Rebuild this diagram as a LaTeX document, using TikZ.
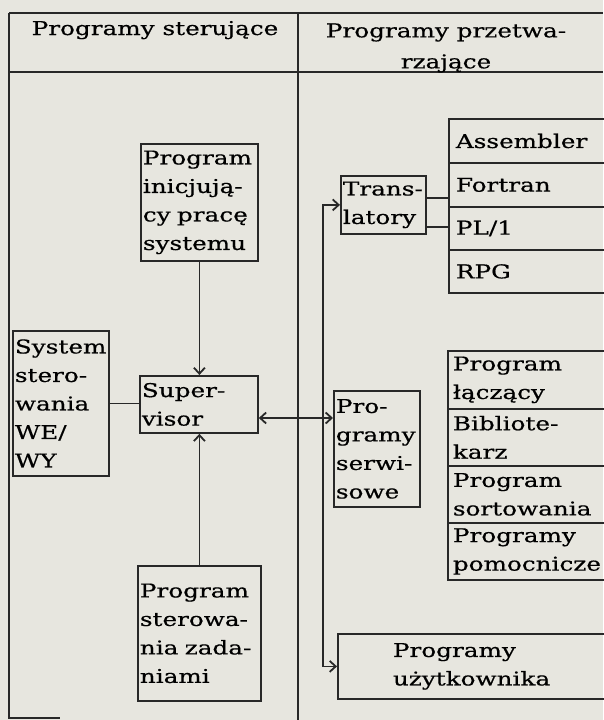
\documentclass[tikz,border=0pt]{standalone}
\usepackage{fontspec}
\setmainfont{DejaVu Serif}[FakeStretch=1.3,FakeBold=0.5]
\usetikzlibrary{arrows.meta,calc,positioning}

\definecolor{paper}{RGB}{231,230,223}
\definecolor{ink}{RGB}{40,40,40}

\tikzset{
	frame/.style={draw=ink, line width=1.8pt},
	prog/.style={draw=ink, line width=1.8pt, anchor=north west, align=left,
		inner xsep=2pt, inner ysep=0pt, font=\fontsize{19}{28.5}\selectfont},
	item/.style={prog, inner xsep=7pt},
	link/.style={ink, line width=1.8pt},
	arr/.style={link, -{Straight Barb[length=6pt,width=11pt]}},
	head/.style={inner sep=0pt, align=center, font=\fontsize{19}{31}\selectfont}
}

\begin{document}
\begin{tikzpicture}[x=1pt, y=-1pt]
		\useasboundingbox (0,0) rectangle (603,720);
		\fill[paper] (0,0) rectangle (603,720);
		% frame of the table
		\draw[frame] (9,13) -- (603,13);
		\draw[frame] (9,72) -- (603,72);
		\draw[frame] (9,13) -- (9,718) -- (60,718);
		\draw[frame] (298,13) -- (298,720);
		\node[head, anchor=base] (hleft) at (155,35) {Programy sterujące};
		\node[head] (hright) at (446,48) {Programy przetwa-\\rzające};
		% control programs
		\node[prog, minimum width=117pt, minimum height=117pt, text width=113pt] (init) at (140,143) {Program\\inicjują-\\cy pracę\\systemu};
		\node[prog, minimum width=118pt, minimum height=57pt, text width=114pt] (sup) at (139,375) {Super-\\visor};
		\node[prog, minimum width=96pt, minimum height=145pt, text width=92pt] (we) at (12,330) {System\\stero-\\wania\\WE/\\WY};
		\node[prog, minimum width=123pt, minimum height=135pt, text width=119pt] (task) at (137,565) {Program\\sterowa-\\nia zada-\\niami};
		% processing programs
		\node[prog, minimum width=85pt, minimum height=58pt, text width=81pt] (trans) at (340,175) {Trans-\\latory};
		\node[prog, minimum width=86pt, minimum height=116pt, text width=82pt] (serw) at (333,390) {Pro-\\gramy\\serwi-\\sowe};
		\node[prog, minimum width=280pt, minimum height=65pt, text width=276pt] (user) at (337,633) {\hspace*{53pt}Programy\\\hspace*{53pt}użytkownika};
		\node[item, minimum width=170pt, minimum height=44pt, text width=156pt] (asm) at (448,118) {Assembler};
		\node[item, minimum width=170pt, minimum height=44pt, text width=156pt] (fort) at (448,162) {Fortran};
		\node[item, minimum width=170pt, minimum height=43pt, text width=156pt] (pl) at (448,206) {PL/1};
		\node[item, minimum width=170pt, minimum height=43pt, text width=156pt] (rpg) at (448,249) {RPG};
		\node[prog, inner xsep=5pt, minimum width=170pt, minimum height=58pt, text width=160pt] (lacz) at (447,350) {Program\\łączący};
		\node[prog, inner xsep=5pt, minimum width=170pt, minimum height=57pt, text width=160pt] (bibl) at (447,408) {Bibliote-\\karz};
		\node[prog, inner xsep=5pt, minimum width=170pt, minimum height=57pt, text width=160pt] (sort) at (447,465) {Program\\sortowania};
		\node[prog, inner xsep=5pt, minimum width=170pt, minimum height=57pt, text width=160pt] (pom) at (447,522) {Programy\\pomocnicze};
		% connections
		\coordinate (hub) at (323,418);
		\draw[arr] (init.south) -- (init.south |- sup.north);
		\draw[arr] (task.north) -- (task.north |- sup.south);
		\draw[link] (we.east) -- (we.east -| sup.west);
		\draw[arr] (hub) -- (hub -| sup.east);
		\draw[arr] (hub) -- (hub -| serw.west);
		\draw[arr] (hub) |- (trans.west);
		\draw[arr] (hub) |- (user.west);
		\draw[link] ([yshift=7pt]trans.east) -- ([yshift=7pt]trans.east -| fort.west);
		\draw[link] ([yshift=-22pt]trans.east) -- ([yshift=-22pt]trans.east -| pl.west);
	\end{tikzpicture}
\end{document}
